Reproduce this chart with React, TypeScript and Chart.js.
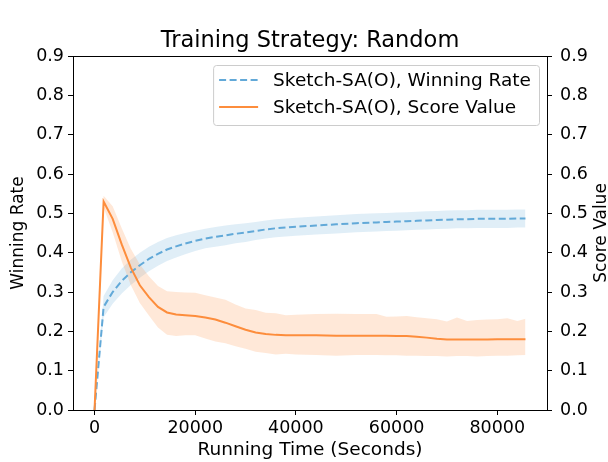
import { useEffect, useRef } from "react";
import { Chart, registerables } from "chart.js";

Chart.register(...registerables);

// ---- data ----
const timeSeconds = [
  0, 1800, 3600, 5400, 7200, 9000, 10800, 12600, 14400, 16200,
  18000, 20000, 22000, 24000, 26000, 28000, 30000, 32000, 34000, 36000,
  38000, 40000, 44000, 48000, 52000, 56000, 58000, 60000, 62000, 64000,
  66000, 68000, 70000, 72000, 74000, 76000, 78000, 80000, 82000, 84000, 85600,
];

const winRateMean = [
  0.0, 0.262, 0.3, 0.328, 0.35, 0.368, 0.384, 0.397, 0.408, 0.416,
  0.423, 0.43, 0.436, 0.44, 0.444, 0.448, 0.451, 0.455, 0.459, 0.462,
  0.464, 0.466, 0.469, 0.472, 0.475, 0.477, 0.478, 0.479, 0.48, 0.481,
  0.482, 0.483, 0.484, 0.485, 0.485, 0.486, 0.486, 0.486, 0.486, 0.487, 0.487,
];
const winRateUpper = [
  0.0, 0.29, 0.33, 0.36, 0.382, 0.4, 0.415, 0.427, 0.437, 0.444,
  0.45, 0.456, 0.461, 0.465, 0.469, 0.472, 0.475, 0.478, 0.482, 0.485,
  0.487, 0.489, 0.492, 0.495, 0.498, 0.5, 0.501, 0.502, 0.503, 0.504,
  0.505, 0.506, 0.507, 0.508, 0.508, 0.509, 0.509, 0.509, 0.509, 0.51, 0.51,
];
const winRateLower = [
  0.0, 0.236, 0.27, 0.296, 0.318, 0.336, 0.353, 0.367, 0.379, 0.388,
  0.396, 0.404, 0.411, 0.415, 0.419, 0.424, 0.427, 0.432, 0.436, 0.439,
  0.441, 0.443, 0.446, 0.449, 0.452, 0.454, 0.455, 0.456, 0.457, 0.458,
  0.459, 0.46, 0.461, 0.462, 0.462, 0.463, 0.463, 0.463, 0.463, 0.464, 0.464,
];

const scoreMean = [
  0.0, 0.53, 0.486, 0.421, 0.362, 0.317, 0.287, 0.262, 0.248, 0.243,
  0.241, 0.239, 0.235, 0.23, 0.222, 0.213, 0.204, 0.197, 0.193, 0.191,
  0.19, 0.19, 0.19, 0.189, 0.189, 0.189, 0.189, 0.188, 0.188, 0.186,
  0.184, 0.181, 0.179, 0.179, 0.179, 0.179, 0.179, 0.18, 0.18, 0.18, 0.18,
];
const scoreUpper = [
  0.0, 0.545, 0.518, 0.462, 0.41, 0.37, 0.34, 0.315, 0.302, 0.3,
  0.299, 0.298, 0.292, 0.286, 0.28, 0.268, 0.258, 0.254, 0.247, 0.246,
  0.241, 0.242, 0.244, 0.245, 0.244, 0.244, 0.237, 0.238, 0.239, 0.236,
  0.233, 0.231, 0.225, 0.235, 0.226, 0.229, 0.23, 0.231, 0.233, 0.226, 0.232,
];
const scoreLower = [
  0.0, 0.515, 0.452, 0.378, 0.318, 0.272, 0.24, 0.21, 0.191, 0.188,
  0.19, 0.19, 0.182, 0.174, 0.17, 0.162, 0.156, 0.148, 0.145, 0.141,
  0.143, 0.141, 0.14, 0.138, 0.14, 0.14, 0.139, 0.139, 0.138, 0.138,
  0.137, 0.137, 0.136, 0.137, 0.137, 0.136, 0.137, 0.138, 0.138, 0.139, 0.14,
];

const xTicks = [0, 20000, 40000, 60000, 80000];
const yTicks = [0, 0.1, 0.2, 0.3, 0.4, 0.5, 0.6, 0.7, 0.8, 0.9];

const TITLE = "Training Strategy: Random";
const X_TITLE = "Running Time (Seconds)";
const Y_LEFT_TITLE = "Winning Rate";
const Y_RIGHT_TITLE = "Score Value";
const WIN_LABEL = "Sketch-SA(O), Winning Rate";
const SCORE_LABEL = "Sketch-SA(O), Score Value";

const BLUE = "#62a9d8";
const BLUE_BAND = "rgba(98,169,216,0.2)";
const ORANGE = "#fd8d3c";
const ORANGE_BAND = "rgba(253,141,60,0.2)";
const FONT = "'DejaVu Sans', sans-serif";

const pts = (ys: number[]) => timeSeconds.map((x, i) => ({ x, y: ys[i] }));

const framePlugin = {
  id: "frame",
  afterDraw(chart: any) {
    const { ctx, chartArea: a } = chart;
    ctx.save();
    ctx.strokeStyle = "#000";
    ctx.lineWidth = 1;
    ctx.beginPath();
    ctx.moveTo(Math.round(a.left) + 0.5, Math.round(a.top) + 0.5);
    ctx.lineTo(Math.round(a.right) + 0.5, Math.round(a.top) + 0.5);
    ctx.stroke();
    ctx.restore();
  },
};

const rightTitlePlugin = {
  id: "rightTitle",
  afterDraw(chart: any) {
    const { ctx, chartArea: a } = chart;
    ctx.save();
    ctx.translate(602, (a.top + a.bottom) / 2);
    ctx.rotate(-Math.PI / 2);
    ctx.font = `17px ${FONT}`;
    ctx.fillStyle = "#000";
    ctx.textAlign = "center";
    ctx.textBaseline = "middle";
    ctx.fillText(Y_RIGHT_TITLE, 0, 0);
    ctx.restore();
  },
};

const legendPlugin = {
  id: "boxLegend",
  afterDraw(chart: any) {
    const { ctx, chartArea: a } = chart;
    const items = [
      { label: chart.data.datasets[4].label, color: BLUE, dash: [7, 3.5] },
      { label: chart.data.datasets[5].label, color: ORANGE, dash: [] },
    ];
    ctx.save();
    ctx.font = `18.5px ${FONT}`;
    const tw = Math.max(...items.map((it) => ctx.measureText(it.label).width));
    const w = 60 + tw + 8;
    const h = 60;
    const right = a.right - 8;
    const left = right - w;
    const top = a.top + 9;
    ctx.beginPath();
    if ((ctx as any).roundRect) (ctx as any).roundRect(left + 0.5, top + 0.5, w, h, 3);
    else ctx.rect(left + 0.5, top + 0.5, w, h);
    ctx.fillStyle = "rgba(255,255,255,0.8)";
    ctx.fill();
    ctx.strokeStyle = "#cccccc";
    ctx.lineWidth = 1;
    ctx.stroke();
    items.forEach((it, i) => {
      const y = top + 15 + i * 27;
      ctx.beginPath();
      ctx.setLineDash(it.dash);
      ctx.strokeStyle = it.color;
      ctx.lineWidth = 2;
      ctx.moveTo(left + 6, y);
      ctx.lineTo(left + 45, y);
      ctx.stroke();
      ctx.setLineDash([]);
      ctx.fillStyle = "#000";
      ctx.textAlign = "left";
      ctx.textBaseline = "middle";
      ctx.fillText(it.label, left + 60, y + 1);
    });
    ctx.restore();
  },
};

export default function App() {
  const ref = useRef<HTMLCanvasElement | null>(null);

  useEffect(() => {
    if (!ref.current) return;
    const tickFont = { family: FONT, size: 17.5 };
    const chart = new Chart(ref.current, {
      type: "line",
      data: {
        datasets: [
          {
            label: "win upper",
            data: pts(winRateUpper),
            yAxisID: "y",
            borderColor: "transparent",
            borderWidth: 0,
            pointRadius: 0,
            fill: false,
            order: 4,
          },
          {
            label: "win lower",
            data: pts(winRateLower),
            yAxisID: "y",
            borderColor: "transparent",
            borderWidth: 0,
            pointRadius: 0,
            backgroundColor: BLUE_BAND,
            fill: "-1",
            order: 4,
          },
          {
            label: "score upper",
            data: pts(scoreUpper),
            yAxisID: "y1",
            borderColor: "transparent",
            borderWidth: 0,
            pointRadius: 0,
            fill: false,
            order: 3,
          },
          {
            label: "score lower",
            data: pts(scoreLower),
            yAxisID: "y1",
            borderColor: "transparent",
            borderWidth: 0,
            pointRadius: 0,
            backgroundColor: ORANGE_BAND,
            fill: "-1",
            order: 3,
          },
          {
            label: WIN_LABEL,
            data: pts(winRateMean),
            yAxisID: "y",
            borderColor: BLUE,
            borderWidth: 2,
            borderDash: [7, 3.5],
            pointRadius: 0,
            fill: false,
            order: 2,
          },
          {
            label: SCORE_LABEL,
            data: pts(scoreMean),
            yAxisID: "y1",
            borderColor: ORANGE,
            borderWidth: 2,
            pointRadius: 0,
            fill: false,
            order: 1,
          },
        ],
      },
      options: {
        animation: false,
        responsive: false,
        devicePixelRatio: 1,
        events: [],
        layout: { padding: 0 },
        plugins: {
          legend: { display: false },
          tooltip: { enabled: false },
          title: {
            display: true,
            fullSize: false,
            text: TITLE,
            color: "#000",
            font: { family: FONT, size: 22.5, weight: "normal" },
            padding: { top: 28, bottom: 1 },
          },
        },
        scales: {
          x: {
            type: "linear",
            min: -4280,
            max: 89880,
            afterBuildTicks: (s: any) => {
              s.ticks = xTicks.map((v) => ({ value: v }));
            },
            afterFit: (s: any) => {
              s.height = 52;
            },
            ticks: {
              color: "#000",
              font: tickFont,
              padding: 2.5,
              maxRotation: 0,
              callback: (v: any) => String(v),
            },
            grid: { drawOnChartArea: false, drawTicks: true, tickLength: 5, tickColor: "#000" },
            border: { display: true, color: "#000", width: 1 },
            title: {
              display: true,
              text: X_TITLE,
              color: "#000",
              font: { family: FONT, size: 18.5 },
              padding: { top: 0, bottom: 0.4 },
            },
          },
          y: {
            type: "linear",
            position: "left",
            min: 0,
            max: 0.9,
            afterBuildTicks: (s: any) => {
              s.ticks = yTicks.map((v) => ({ value: v }));
            },
            afterFit: (s: any) => {
              s.width = 73;
            },
            ticks: {
              color: "#000",
              font: tickFont,
              padding: 4,
              callback: (v: any) => Number(v).toFixed(1),
            },
            grid: { drawOnChartArea: false, drawTicks: true, tickLength: 5, tickColor: "#000" },
            border: { display: true, color: "#000", width: 1 },
            title: {
              display: true,
              text: Y_LEFT_TITLE,
              color: "#000",
              font: { family: FONT, size: 17 },
              padding: { top: 8.8, bottom: 0 },
            },
          },
          y1: {
            type: "linear",
            position: "right",
            min: 0,
            max: 0.9,
            afterBuildTicks: (s: any) => {
              s.ticks = yTicks.map((v) => ({ value: v }));
            },
            afterFit: (s: any) => {
              s.width = 61;
            },
            ticks: {
              color: "#000",
              font: tickFont,
              padding: 8,
              callback: (v: any) => Number(v).toFixed(1),
            },
            grid: { drawOnChartArea: false, drawTicks: true, tickLength: 5, tickColor: "#000" },
            border: { display: true, color: "#000", width: 1 },
          },
        },
      } as any,
      plugins: [framePlugin, rightTitlePlugin, legendPlugin],
    });
    return () => chart.destroy();
  }, []);

  return (
    <div style={{ position: "fixed", left: 0, top: 0, width: 608, height: 462, background: "#fff" }}>
      <canvas ref={ref} width={608} height={462} style={{ display: "block" }} />
    </div>
  );
}
